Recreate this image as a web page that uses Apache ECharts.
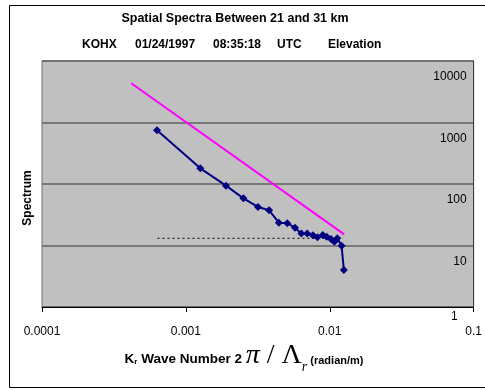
<!DOCTYPE html>
<html>
<head>
<meta charset="utf-8">
<script src="https://cdn.jsdelivr.net/npm/echarts@6/dist/echarts.min.js"></script>
<style>
  html, body { margin: 0; padding: 0; background: #fff; }
  #chart { width: 485px; height: 390px; }
</style>
</head>
<body>
<div id="chart"></div>
<script>
// measured spectrum (wave number kr, spectrum)
var kr = [0.00063, 0.00126, 0.0019, 0.00251, 0.00317, 0.00379, 0.00443, 0.00507, 0.00573, 0.00634,
          0.00697, 0.00763, 0.00821, 0.00894, 0.00952, 0.01019, 0.01076, 0.01128, 0.01208, 0.01253];
var spectrum = [747, 180, 94, 58.5, 42.3, 37.4, 23.5, 23, 19.5, 15.6,
                15.6, 14.7, 13.6, 14.8, 13.9, 12.8, 11.5, 13.1, 9.9, 4.0];
// -5/3 reference line end points
var slopeX = [0.000417, 0.0126];
var slopeY = [4340, 15.2];
// noise level (dashed)
var noiseX = [0.000635, 0.0123];
var noiseY = [13.1, 13.1];
var yTicks = [1, 10, 100, 1000, 10000];
var xTicks = [0.0001, 0.001, 0.01, 0.1];

function pairs(xs, ys) {
  var out = [];
  for (var i = 0; i < xs.length; i++) out.push([xs[i], ys[i]]);
  return out;
}

var font = '"Liberation Sans", Arial, sans-serif';
var myChart = echarts.init(document.getElementById('chart'));
myChart.setOption({
  animation: false,
  backgroundColor: '#ffffff',
  grid: {
    left: 42, right: 7, top: 61, bottom: 83,
    show: true,
    backgroundColor: '#C0C0C0',
    borderColor: '#707070',
    borderWidth: 1
  },
  xAxis: {
    type: 'log',
    min: xTicks[0],
    max: xTicks[xTicks.length - 1],
    logBase: 10,
    axisLine: { lineStyle: { color: '#000', width: 1 } },
    axisTick: { show: true, length: 5, inside: false, lineStyle: { color: '#000' } },
    minorTick: { show: false },
    splitLine: { show: false },
    axisLabel: {
      margin: 19,
      fontFamily: font,
      fontSize: 12,
      color: '#000',
      formatter: function (v) { return String(v); },
      showMinLabel: true,
      showMaxLabel: true
    }
  },
  yAxis: {
    type: 'log',
    min: yTicks[0],
    max: yTicks[yTicks.length - 1],
    logBase: 10,
    position: 'right',
    axisLine: { show: true, lineStyle: { color: '#404040', width: 1 } },
    axisTick: { show: false },
    splitLine: { show: true, lineStyle: { color: '#606060', width: 1.5 } },
    axisLabel: {
      inside: true,
      margin: 7,
      fontFamily: font,
      fontSize: 12,
      color: '#000',
      verticalAlign: 'top',
      formatter: function (v) { return v === 1 ? '{o|1}' : '{n|' + v + '}'; },
      rich: {
        n: { fontFamily: font, fontSize: 12, color: '#000', padding: [10, 0, 0, 0] },
        o: { fontFamily: font, fontSize: 12, color: '#000', padding: [4, 9, 0, 0] }
      }
    }
  },
  graphic: [
    { type: 'rect', silent: true, z: -10,
      shape: { x: 9.5, y: 5.5, width: 490, height: 382 },
      style: { fill: null, stroke: '#000', lineWidth: 1 } },
    { type: 'text', x: 235, y: 19, style: { text: 'Spatial Spectra Between 21 and 31 km',
      font: 'bold 12.5px ' + font, fill: '#000', align: 'center', verticalAlign: 'middle' } },
    { type: 'text', x: 82, y: 45, style: { text: 'KOHX', font: 'bold 12px ' + font, fill: '#000', verticalAlign: 'middle' } },
    { type: 'text', x: 135, y: 45, style: { text: '01/24/1997', font: 'bold 12px ' + font, fill: '#000', verticalAlign: 'middle' } },
    { type: 'text', x: 213, y: 45, style: { text: '08:35:18', font: 'bold 12px ' + font, fill: '#000', verticalAlign: 'middle' } },
    { type: 'text', x: 277, y: 45, style: { text: 'UTC', font: 'bold 12px ' + font, fill: '#000', verticalAlign: 'middle' } },
    { type: 'text', x: 328, y: 45, style: { text: 'Elevation', font: 'bold 12px ' + font, fill: '#000', verticalAlign: 'middle' } },
    { type: 'text', x: 28, y: 198, rotation: Math.PI / 2,
      style: { text: 'Spectrum', font: 'bold 12px ' + font, fill: '#000', align: 'center', verticalAlign: 'middle' } },
    { type: 'text', x: 244, y: 356,
      style: {
        text: '{b|K}{s|r}{b| Wave Number 2 }{g|π}{h| / Λ}{s2|r}{c| (radian/m)}',
        align: 'center', verticalAlign: 'middle',
        rich: {
          b: { font: 'bold 13.5px ' + font, fill: '#000', verticalAlign: 'bottom', padding: [0, 0, 4, 0] },
          c: { font: 'bold 11px ' + font, fill: '#000', verticalAlign: 'bottom', padding: [0, 0, 4, 0] },
          s: { font: 'bold 8px ' + font, fill: '#000', verticalAlign: 'bottom', padding: [0, 0, 4, 0] },
          g: { font: 'italic 28px "Liberation Serif", "DejaVu Serif", serif', fill: '#000' },
          h: { font: '28px "Liberation Serif", "DejaVu Serif", serif', fill: '#000' },
          s2: { font: 'italic 14px "Liberation Serif", serif', fill: '#000', verticalAlign: 'bottom', padding: [0, 0, -4, 0] }
        }
      } }
  ],
  series: [
    {
      type: 'line',
      data: pairs(noiseX, noiseY),
      symbol: 'none',
      lineStyle: { color: '#000', width: 1, type: [2, 3] },
      z: 2
    },
    {
      type: 'line',
      data: pairs(slopeX, slopeY),
      symbol: 'none',
      lineStyle: { color: '#FF00FF', width: 2 },
      z: 3
    },
    {
      type: 'line',
      data: pairs(kr, spectrum),
      symbol: 'diamond',
      symbolSize: 8,
      itemStyle: { color: '#000080' },
      lineStyle: { color: '#000080', width: 2 },
      z: 4
    }
  ]
});
</script>
</body>
</html>
